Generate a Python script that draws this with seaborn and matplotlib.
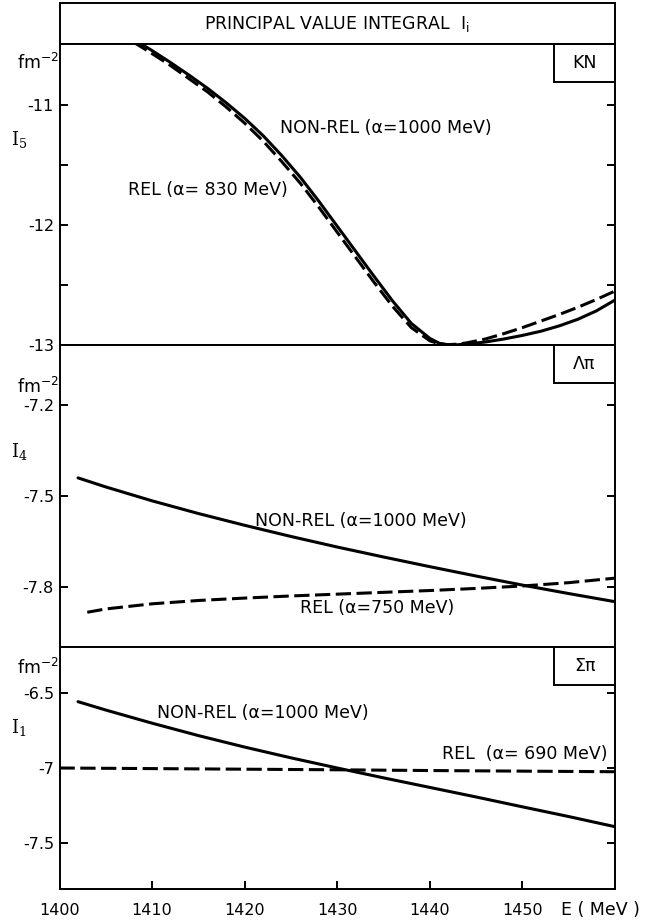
import numpy as np
import pandas as pd
import seaborn as sns
import matplotlib.pyplot as plt
from matplotlib.patches import Rectangle

# --- data ---
# KN panel (I5)
e_kn = [1408, 1410, 1412, 1414, 1416, 1418, 1420, 1422, 1424, 1426, 1428, 1430,
        1432, 1434, 1436, 1438, 1440, 1441, 1442, 1443, 1444, 1446, 1448, 1450,
        1452, 1454, 1456, 1458, 1460]
kn_nonrel = [-10.45, -10.545, -10.645, -10.75, -10.86, -10.98, -11.11, -11.255, -11.42,
             -11.60, -11.80, -12.01, -12.22, -12.43, -12.635, -12.82, -12.945, -12.985,
             -13.0, -12.998, -12.992, -12.975, -12.95, -12.92, -12.885, -12.84, -12.785,
             -12.715, -12.625]
kn_rel = [-10.475, -10.57, -10.67, -10.78, -10.89, -11.015, -11.15, -11.30, -11.47,
          -11.65, -11.85, -12.06, -12.27, -12.48, -12.68, -12.855, -12.965, -12.99,
          -12.997, -12.993, -12.982, -12.95, -12.905, -12.855, -12.80, -12.745, -12.685,
          -12.62, -12.55]

# Lambda-pi panel (I4)
e_lp = [1402, 1405, 1410, 1415, 1420, 1425, 1430, 1435, 1440, 1445, 1450, 1455, 1460]
lp_nonrel = [-7.44, -7.47, -7.516, -7.558, -7.597, -7.634, -7.669, -7.702, -7.734,
             -7.765, -7.795, -7.823, -7.85]
e_lp_rel = [1403, 1405, 1410, 1415, 1420, 1425, 1430, 1435, 1440, 1445, 1450, 1455, 1460]
lp_rel = [-7.885, -7.874, -7.857, -7.846, -7.838, -7.831, -7.825, -7.819, -7.813,
          -7.806, -7.798, -7.787, -7.772]

# Sigma-pi panel (I1)
e_sp = [1402, 1405, 1410, 1415, 1420, 1425, 1430, 1435, 1440, 1445, 1450, 1455, 1460]
sp_nonrel = [-6.556, -6.612, -6.70, -6.783, -6.86, -6.932, -7.0, -7.066, -7.13,
             -7.194, -7.26, -7.325, -7.393]
e_sp_rel = [1400, 1410, 1420, 1430, 1440, 1450, 1460]
sp_rel = [-7.0, -7.004, -7.008, -7.012, -7.017, -7.021, -7.025]

sns.set_theme(style="white")
plt.rcParams['font.family'] = ['DejaVu Sans']
plt.rcParams['mathtext.default'] = 'regular'
plt.rcParams['text.color'] = 'black'
plt.rcParams['xtick.color'] = 'black'
plt.rcParams['ytick.color'] = 'black'

fig = plt.figure(figsize=(6.5, 9.24), dpi=100)
W, H = 650, 924
L, R = 59.5, 615
FS = 12.5


def add_ax(top, bottom):
    return fig.add_axes([L / W, 1 - bottom / H, (R - L) / W, (bottom - top) / H])


ax_t = add_ax(3, 44)
ax1 = add_ax(44, 345)
ax2 = add_ax(345, 647)
ax3 = add_ax(647, 889)

lw = 2.2
dash = (0, (5, 1.8))

for ax in [ax_t, ax1, ax2, ax3]:
    for s in ax.spines.values():
        s.set_color('black')
        s.set_linewidth(1.4)
    ax.set_xlim(1400, 1460)

ax_t.set_xticks([])
ax_t.set_yticks([])
ax_t.text(0.5, 0.5, "PRINCIPAL VALUE INTEGRAL  I$_i$", transform=ax_t.transAxes,
          ha='center', va='center', fontsize=FS)

# panel KN
sns.lineplot(x=e_kn, y=kn_nonrel, ax=ax1, color='black', lw=lw)
sns.lineplot(x=e_kn, y=kn_rel, ax=ax1, color='black', lw=lw, linestyle=dash)
ax1.set_ylim(-13, -10.49)
ax1.set_yticks([-11, -12, -13])
ax1.set_yticks([-11.5, -12.5], minor=True)
ax1.set_yticklabels(['-11', '-12', '-13'])

# panel Lambda pi
sns.lineplot(x=e_lp, y=lp_nonrel, ax=ax2, color='black', lw=lw)
sns.lineplot(x=e_lp_rel, y=lp_rel, ax=ax2, color='black', lw=lw, linestyle=dash)
ax2.set_ylim(-8.0, -7.0)
ax2.set_yticks([-7.2, -7.5, -7.8])
ax2.set_yticklabels(['-7.2', '-7.5', '-7.8'])

# panel Sigma pi
sns.lineplot(x=e_sp, y=sp_nonrel, ax=ax3, color='black', lw=lw)
sns.lineplot(x=e_sp_rel, y=sp_rel, ax=ax3, color='black', lw=lw, linestyle=dash)
ax3.set_ylim(-7.81, -6.19)
ax3.set_yticks([-6.5, -7, -7.5])
ax3.set_yticklabels(['-6.5', '-7', '-7.5'])

for ax in [ax1, ax2, ax3]:
    ax.set_xlabel('')
    ax.set_ylabel('')
    ax.tick_params(axis='y', which='both', direction='in', length=6, width=1.4,
                   left=True, right=True, labelsize=11.5, pad=4)
    ax.tick_params(axis='x', which='both', bottom=False, top=False, labelbottom=False)

ax3.set_xticks([1400, 1410, 1420, 1430, 1440, 1450])
ax3.set_xticklabels(['1400', '1410', '1420', '1430', '1440', '1450'])
ax3.tick_params(axis='x', direction='in', length=6, width=1.4, bottom=True,
                labelbottom=True, labelsize=11.5, pad=10)


def fig_text(x, y, s, **kw):
    fig.text(x / W, 1 - y / H, s, **kw)


# in-panel labels (pixel positions)
fig_text(280, 128, "NON-REL (\u03b1=1000 MeV)", fontsize=FS, va='center')
fig_text(128, 190, "REL (\u03b1= 830 MeV)", fontsize=FS, va='center')
fig_text(255, 521, "NON-REL (\u03b1=1000 MeV)", fontsize=FS, va='center')
fig_text(300, 608, "REL (\u03b1=750 MeV)", fontsize=FS, va='center')
fig_text(157, 713, "NON-REL (\u03b1=1000 MeV)", fontsize=FS, va='center')
fig_text(608, 754, "REL  (\u03b1= 690 MeV)", fontsize=FS, va='center', ha='right')

# channel boxes in the upper right corner
for ax, lab, top, bot in [(ax1, 'KN', 44, 345), (ax2, '\u039b\u03c0', 345, 647),
                          (ax3, '\u03a3\u03c0', 647, 889)]:
    bw = 61 / (R - L)
    bh = 38 / (bot - top)
    ax.add_patch(Rectangle((1 - bw, 1 - bh), bw, bh, transform=ax.transAxes,
                           fill=False, lw=1.4, ec='black', clip_on=False))
    ax.text(1 - bw / 2, 1 - bh / 2, lab, transform=ax.transAxes, ha='center',
            va='center', fontsize=FS)

# axis unit and quantity labels
for y_fm, y_i, sub in [(63, 140, '5'), (387, 452, '4'), (668, 728, '1')]:
    fig_text(38, y_fm, "fm$^{-2}$", fontsize=FS, ha='center', va='center')
    fig_text(19, y_i, "I$_{%s}$" % sub, fontsize=13, ha='center', va='center',
             family='DejaVu Serif')

fig_text(600, 910, "E ( MeV )", fontsize=FS, ha='center', va='center')

fig.savefig('out.png', dpi=100)
